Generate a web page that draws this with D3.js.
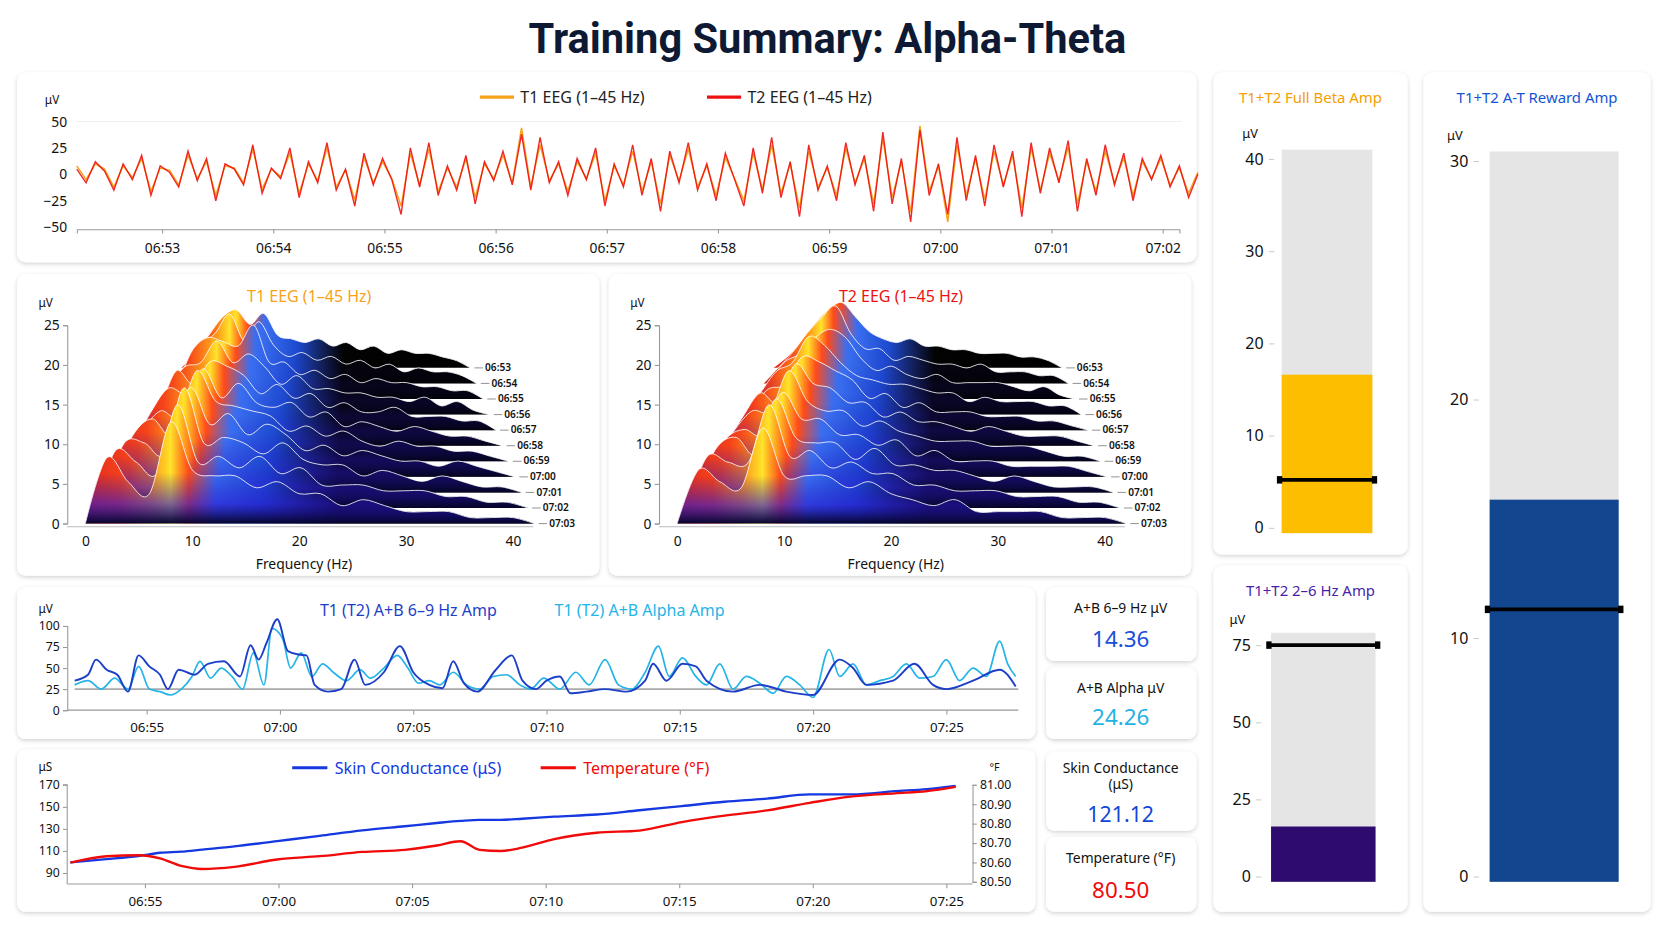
<!DOCTYPE html>
<html><head><meta charset="utf-8">
<script src="https://cdn.jsdelivr.net/npm/d3@7"></script>
<style>
body{margin:0;background:#fff;font-family:"Noto Sans",Roboto,sans-serif;}
svg{display:block}
</style></head><body>
<svg id="chart" width="1672" height="941" viewBox="0 0 1568 882.5"></svg>
<script>
// raw EEG traces (μV), one sample every 5 s from 06:52:14
var eegStart = "06:52:14";
var eegT1 = [8,-5,10,5,-12,8,-3,15,-16,6,4,-10,18,-4,12,-20,8,6,-8,24,-14,5,-2,20,-18,10,-6,25,-12,4,-24,16,-8,12,-4,-30,20,-10,24,-16,6,-12,15,-22,10,-4,18,-8,44,-12,28,-6,10,-16,12,-4,20,-25,8,-10,22,-16,12,-28,18,-6,24,-12,8,-20,16,-4,-25,20,-14,28,-18,10,-32,22,-12,6,-20,25,-8,15,-28,34,-22,12,-36,46,-16,8,-45,28,-20,15,-24,22,-10,18,-32,25,-15,20,-6,26,-28,12,-16,22,-8,16,-20,12,-4,15,-10,6,-18,2];
var eegT2 = [5,-8,12,3,-15,10,-5,18,-20,8,2,-12,22,-6,15,-25,10,5,-10,28,-18,6,-4,25,-22,12,-8,30,-15,5,-30,20,-10,15,-5,-38,25,-12,30,-20,8,-15,18,-28,12,-6,22,-10,38,-15,35,-8,12,-20,15,-5,25,-30,10,-12,28,-20,15,-35,22,-8,30,-15,10,-25,20,-5,-30,25,-18,35,-22,12,-40,28,-15,8,-25,30,-10,18,-35,40,-28,15,-45,42,-20,10,-38,35,-25,18,-30,28,-12,22,-40,30,-18,25,-8,32,-35,15,-20,28,-10,20,-25,15,-5,18,-12,8,-22,0];
var eegTicks = ["06:53","06:54","06:55","06:56","06:57","06:58","06:59","07:00","07:01","07:02"];

// spectra: rows 06:53 (back) .. 07:03 (front), values at 0,2,4..42 Hz
var specFreqs = [0,2,4,6,8,10,12,14,16,18,20,22,24,26,28,30,32,34,36,38,40,42];
var specRows = ["06:53","06:54","06:55","06:56","06:57","06:58","06:59","07:00","07:01","07:02","07:03"];
var specT1 = [
  [0,4,9,14,16,12,15,9,8,7,8,6,7,5,6,4,5,4,4,3,2,0],
  [0,5,10,13,18,11,16,10,7,8,6,7,5,6,4,5,3,4,3,3,2,0],
  [0,4,12,15,14,13,18,9,9,6,7,5,6,4,5,4,4,3,3,2,2,0],
  [0,6,11,12,17,12,14,11,7,9,6,6,5,5,4,4,3,4,2,3,1,0],
  [0,5,13,10,15,14,12,8,10,7,8,5,6,4,4,5,3,3,3,2,2,0],
  [0,7,12,11,16,10,13,9,8,9,6,7,4,5,4,3,4,3,2,2,1,0],
  [0,6,10,9,18,12,11,10,9,6,7,5,6,4,3,4,3,3,2,2,1,0],
  [0,8,11,8,17,10,12,8,10,8,5,6,4,5,4,3,3,2,3,2,1,0],
  [0,9,9,7,19,9,10,9,7,9,6,5,5,3,4,3,2,3,2,1,1,0],
  [0,10,8,6,18,8,9,7,9,6,7,4,4,4,3,3,3,2,2,1,1,0],
  [0,11,7,5,17,9,8,8,6,7,5,5,3,4,3,2,2,2,1,1,1,0]
];
var specT2 = [
  [0,3,7,12,16,18,14,10,8,7,8,6,6,5,5,4,4,4,3,3,2,0],
  [0,4,8,13,17,20,13,9,9,6,7,6,5,5,4,5,3,3,3,2,2,0],
  [0,4,9,11,15,17,15,10,7,8,6,5,6,4,4,4,4,3,2,3,1,0],
  [0,5,10,12,18,16,12,9,8,7,7,6,5,5,3,4,3,3,3,2,2,0],
  [0,5,9,10,16,15,13,11,7,8,5,6,4,4,4,3,3,3,2,2,1,0],
  [0,6,11,9,17,13,12,9,9,6,7,5,5,4,3,4,3,2,2,2,1,0],
  [0,6,10,10,18,12,10,10,7,8,6,5,4,4,4,3,3,3,2,1,1,0],
  [0,7,9,8,16,11,11,8,8,6,7,4,5,3,3,3,2,2,2,2,1,0],
  [0,8,10,7,17,10,9,9,6,8,5,5,4,4,3,2,3,2,1,1,1,0],
  [0,9,8,8,18,9,10,7,8,6,6,4,4,3,3,3,2,2,2,1,1,0],
  [0,9,7,6,16,8,8,8,6,7,5,4,3,4,2,2,2,2,1,1,1,0]
];

// A+B amplitudes (minutes after 06:50, μV)
var ampDarkT = [2.3,2.8,3.1,3.5,3.9,4.3,4.7,5.1,5.5,5.8,6.2,6.8,7.3,7.9,8.5,8.9,9.2,9.5,9.9,10.3,10.7,11.0,11.3,11.8,12.3,12.8,13.2,13.9,14.5,15.0,15.6,16.1,16.5,16.9,17.4,18.1,18.7,19.1,19.6,20.0,20.5,20.9,21.5,22.2,23.0,23.7,24.0,24.5,25.1,25.6,26.0,27.0,28.0,29.0,30.0,31.0,31.5,32.0,33.0,33.8,34.5,35.0,36.0,37.0,37.6];
var ampDark  = [35,42,60,48,42,22,65,52,42,25,48,42,55,58,40,77,60,80,108,70,66,65,30,22,25,60,30,45,76,45,30,26,58,32,22,48,65,35,25,35,40,20,22,25,22,35,55,35,55,52,35,22,30,22,18,60,50,30,35,55,30,25,35,48,28];
var ampLightT = [2.3,2.8,3.3,3.8,4.3,4.7,5.1,5.5,5.9,6.3,6.7,7.0,7.4,7.8,8.2,8.6,9.0,9.4,9.7,10.1,10.4,10.8,11.2,11.6,12.0,12.5,13.0,13.4,13.9,14.4,14.8,15.2,15.6,16.0,16.5,17.0,17.5,18.0,18.5,19.0,19.4,19.9,20.5,21.1,21.6,22.2,22.7,23.2,23.7,24.2,24.6,25.1,25.6,26.0,26.5,27.0,27.5,28.0,28.5,29.0,29.5,30.0,30.6,31.0,31.5,32.0,32.5,33.0,33.5,34.0,34.5,35.0,35.5,36.0,36.5,37.0,37.3,37.6];
var ampLight  = [30,35,25,38,25,52,25,22,18,25,40,58,38,50,40,25,68,30,97,85,50,68,40,55,45,35,48,38,50,65,50,32,35,30,45,30,25,40,42,30,25,38,25,45,30,60,30,25,45,76,40,62,40,30,55,25,40,32,20,40,30,15,72,40,55,30,35,40,55,38,40,60,35,50,40,82,55,40];
var ampTicks = ["06:55","07:00","07:05","07:10","07:15","07:20","07:25"];

// skin conductance (μS) and temperature (°F)
var physT = [2.21,3.56,4.76,5.56,6.36,7.15,8.35,9.95,11.54,13.14,14.73,15.93,16.81,17.53,18.32,19.12,20.32,21.91,23.51,25.10,26.70,28.29,29.89,31.49,33.08,34.28,35.35];
var skin = [99.6,102.5,105.4,108.3,109.3,111.2,114.1,118.9,123.7,128.6,132.4,135.3,137.2,138.2,138.2,139.2,141.1,143.0,146.9,150.7,154.6,157.5,161.3,161.3,164.2,166.1,169.0];
var temp = [80.599,80.632,80.637,80.621,80.582,80.566,80.577,80.615,80.632,80.654,80.665,80.687,80.709,80.665,80.659,80.676,80.720,80.753,80.764,80.808,80.841,80.868,80.907,80.940,80.956,80.967,80.989];

// summary values
var statLabels = ["A+B 6–9 Hz μV","A+B Alpha μV","Skin Conductance|(μS)","Temperature (°F)"];
var statValues = ["14.36","24.26","121.12","80.50"];
var statColors = ["#1a4fd8","#1fb2e6","#1247d6","#f00a0a"];
var barTitles = ["T1+T2 Full Beta Amp","T1+T2 2–6 Hz Amp","T1+T2 A-T Reward Amp"];
var barValues = [16.6, 16.2, 15.8];
var barThresholds = [5.2, 75, 11.2];
var barMax = [41, 79, 30.4];
var barTicks = [[0,10,20,30,40],[0,25,50,75],[0,10,20,30]];

var svg = d3.select("#chart");
var defs = svg.append("defs");
var sh = defs.append("filter").attr("id","sh").attr("x","-5%").attr("y","-5%").attr("width","110%").attr("height","115%");
sh.append("feDropShadow").attr("dx",0).attr("dy",1.5).attr("stdDeviation",2).attr("flood-color","#000").attr("flood-opacity",0.18);

function panel(x,y,w,h){
  svg.append("rect").attr("x",x).attr("y",y).attr("width",w).attr("height",h)
    .attr("rx",8).attr("fill","#fff").attr("filter","url(#sh)");
}
function txt(x,y,s,size,color,anchor,weight){
  return svg.append("text").attr("x",x).attr("y",y).text(s).attr("font-size",size)
    .attr("fill",color||"#111").attr("text-anchor",anchor||"start").attr("font-weight",weight||400);
}
function styleAxis(g){
  g.selectAll("path,line").attr("stroke","#999");
  g.selectAll("text").attr("font-size",12).attr("fill","#111").attr("font-family","Noto Sans, sans-serif");
}
var parse = d3.timeParse("%H:%M:%S");
var parseHM = d3.timeParse("%H:%M");
var minToDate = function(m){ return new Date(parse("06:50:00").getTime() + m*60000); };

txt(776,50,"Training Summary: Alpha-Theta",39,"#0e1a33","middle",700).attr("font-family","Roboto, sans-serif");

// ---------- EEG panel
panel(16,68,1106,178);
var t0 = parse(eegStart);
var eegTimes = eegT2.map(function(d,i){ return new Date(t0.getTime()+i*5000); });
var xE = d3.scaleTime().domain([t0, parse("07:02:09")]).range([72,1106]);
var yE = d3.scaleLinear().domain([-50,50]).range([213,114]);
svg.append("line").attr("x1",72).attr("x2",1108).attr("y1",114).attr("y2",114).attr("stroke","#eee");
var gx = svg.append("g").attr("transform","translate(0,215)")
  .call(d3.axisBottom(xE).tickValues(eegTicks.map(parseHM)).tickFormat(d3.timeFormat("%H:%M")).tickSize(4));
styleAxis(gx); gx.selectAll("text").attr("dy","1.2em").attr("font-size",13);
var gy = svg.append("g").attr("transform","translate(66,0)")
  .call(d3.axisLeft(yE).tickValues([-50,-25,0,25,50]).tickSize(0));
gy.select("path").remove(); styleAxis(gy); gy.selectAll("text").attr("font-size",13);
txt(42,98,"μV",11,"#111");
var lineE = function(arr){ return d3.line().x(function(d,i){return xE(eegTimes[i]);}).y(function(d){return yE(d);})(arr); };
svg.append("path").attr("d",lineE(eegT1)).attr("fill","none").attr("stroke","#f7a21b").attr("stroke-width",1.4);
svg.append("path").attr("d",lineE(eegT2)).attr("fill","none").attr("stroke","#ee1111").attr("stroke-width",1.3).attr("opacity",0.9);
[["T1 EEG (1–45 Hz)","#f7a21b",450],["T2 EEG (1–45 Hz)","#ee1111",663]].forEach(function(l){
  svg.append("line").attr("x1",l[2]).attr("x2",l[2]+32).attr("y1",91).attr("y2",91).attr("stroke",l[1]).attr("stroke-width",3);
  txt(l[2]+38,97,l[0],15,"#222");
});

// ---------- waterfall panels
var gH = defs.append("linearGradient").attr("id","gH").attr("x1",0).attr("x2",1).attr("y1",0).attr("y2",0);
[[0,"#e02a20"],[0.08,"#f5421a"],[0.15,"#ff9a1a"],[0.19,"#ffe32a"],[0.23,"#ff4a1a"],[0.29,"#3a6ef0"],[0.4,"#1d4ad0"],[0.5,"#101c4a"],[0.56,"#030303"],[1,"#000"]]
  .forEach(function(s){ gH.append("stop").attr("offset",s[0]).attr("stop-color",s[1]); });
var gV = defs.append("linearGradient").attr("id","gV").attr("x1",0).attr("x2",0).attr("y1",0).attr("y2",1);
[[0,"#1a10c0",0],[0.5,"#1a10c0",0],[0.8,"#2a18d0",0.6],[1,"#05052a",1]].forEach(function(s){ gV.append("stop").attr("offset",s[0]).attr("stop-color",s[1]).attr("stop-opacity",s[2]); });

function waterfall(dx, title, color, rows){
  panel(16+dx,257,546,283);
  txt(290+dx,283,title,15,color,"middle");
  txt(36+dx,288,"μV",11,"#111");
  var xF = d3.scaleLinear().domain([0,40]).range([80+dx,481+dx]);
  var yA = d3.scaleLinear().domain([0,25]).range([491,305]);
  var ga = svg.append("g").attr("transform","translate("+(63+dx)+",0)").call(d3.axisLeft(yA).tickValues([0,5,10,15,20,25]).tickSize(4));
  styleAxis(ga); ga.selectAll("text").attr("font-size",13);
  var gb = svg.append("g").attr("transform","translate(0,500)").call(d3.axisBottom(xF).tickValues([0,10,20,30,40]).tickSize(0));
  gb.select("path").remove(); styleAxis(gb); gb.selectAll("text").attr("font-size",13);
  svg.append("line").attr("x1",63+dx).attr("x2",500+dx).attr("y1",494).attr("y2",494).attr("stroke","#bbb");
  txt(285+dx,534,"Frequency (Hz)",13,"#111","middle");
  var depth = d3.scaleLinear().domain([0,rows.length-1]);
  var x0 = depth.copy().range([170,80]), x40 = depth.copy().range([428,481]);
  var base = depth.copy().range([345,491]), amp = depth.copy().range([3.4,5.6]);
  rows.forEach(function(r,i){
    var xs = d3.scaleLinear().domain([0,40]).range([x0(i)+dx, x40(i)+dx]);
    var area = d3.area().x(function(d,j){return xs(specFreqs[j]);}).y0(base(i)).y1(function(d){return base(i)-d*amp(i);}).curve(d3.curveCardinal);
    var line = d3.line().x(function(d,j){return xs(specFreqs[j]);}).y(function(d){return base(i)-d*amp(i);}).curve(d3.curveCardinal);
    svg.append("path").attr("d",area(r)).attr("fill","url(#gH)");
    svg.append("path").attr("d",area(r)).attr("fill","url(#gV)").attr("opacity",i/(rows.length-1));
    svg.append("path").attr("d",line(r)).attr("fill","none").attr("stroke","#fff").attr("stroke-width",0.9).attr("opacity",0.85);
    var ex = xs(42);
    svg.append("line").attr("x1",ex+4).attr("x2",ex+12).attr("y1",base(i)).attr("y2",base(i)).attr("stroke","#999");
    txt(ex+14,base(i)+3,specRows[i],9.5,"#111","start",600);
  });
}
waterfall(0,"T1 EEG (1–45 Hz)","#f7a21b",specT1);
waterfall(555,"T2 EEG (1–45 Hz)","#ee1111",specT2);

// ---------- A+B amp panel
panel(16,551,955,142);
var xA = d3.scaleTime().domain([minToDate(2.3),minToDate(37.7)]).range([70,955]);
var yAmp = d3.scaleLinear().domain([0,100]).range([666,587]);
var gax = svg.append("g").attr("transform","translate(0,666)").call(d3.axisBottom(xA).tickValues(ampTicks.map(parseHM)).tickFormat(d3.timeFormat("%H:%M")).tickSize(4));
styleAxis(gax); gax.selectAll("text").attr("dy","1.1em").attr("font-size",12.5);
gax.select("path").attr("d","M63,0H955");
var gay = svg.append("g").attr("transform","translate(63,0)").call(d3.axisLeft(yAmp).tickValues([0,25,50,75,100]).tickSize(4));
styleAxis(gay); gay.selectAll("text").attr("font-size",11.5);
txt(36,575,"μV",11,"#111");
svg.append("line").attr("x1",70).attr("x2",955).attr("y1",yAmp(25)).attr("y2",yAmp(25)).attr("stroke","#aaa").attr("stroke-width",1.5);
var lineA = function(ts,vs){ return d3.line().x(function(d,i){return xA(minToDate(ts[i]));}).y(function(d){return yAmp(d);}).curve(d3.curveMonotoneX)(vs); };
svg.append("path").attr("d",lineA(ampLightT,ampLight)).attr("fill","none").attr("stroke","#24b4e8").attr("stroke-width",1.6);
svg.append("path").attr("d",lineA(ampDarkT,ampDark)).attr("fill","none").attr("stroke","#1d3fc8").attr("stroke-width",1.8);
txt(300,578,"T1 (T2) A+B 6–9 Hz Amp",15,"#1d3fc8");
txt(520,578,"T1 (T2) A+B Alpha Amp",15,"#24b4e8");

// ---------- skin / temperature panel
panel(16,703,955,152);
var xP = d3.scaleTime().domain([minToDate(2.21),minToDate(35.9)]).range([66,910]);
var yS = d3.scaleLinear().domain([80,170]).range([829,736]);
var yT = d3.scaleLinear().domain([80.5,81.0]).range([827,736]);
var gpx = svg.append("g").attr("transform","translate(0,829)").call(d3.axisBottom(xP).tickValues(ampTicks.map(parseHM)).tickFormat(d3.timeFormat("%H:%M")).tickSize(4));
styleAxis(gpx); gpx.selectAll("text").attr("dy","1.1em").attr("font-size",12.5);
gpx.select("path").attr("d","M63,0H912");
var gpy = svg.append("g").attr("transform","translate(63,0)").call(d3.axisLeft(yS).tickValues([90,110,130,150,170]).tickSize(4));
styleAxis(gpy); gpy.selectAll("text").attr("font-size",11.5); gpy.select("path").attr("d","M-4,736H0V829");
var gpr = svg.append("g").attr("transform","translate(912,0)").call(d3.axisRight(yT).tickValues([80.5,80.6,80.7,80.8,80.9,81.0]).tickFormat(d3.format(".2f")).tickSize(4));
styleAxis(gpr); gpr.selectAll("text").attr("font-size",11.5);
txt(36,723,"μS",11,"#111"); txt(928,723,"°F",10,"#111");
var lineS = d3.line().x(function(d,i){return xP(minToDate(physT[i]));}).y(function(d){return yS(d);}).curve(d3.curveMonotoneX);
var lineT = d3.line().x(function(d,i){return xP(minToDate(physT[i]));}).y(function(d){return yT(d);}).curve(d3.curveMonotoneX);
svg.append("path").attr("d",lineS(skin)).attr("fill","none").attr("stroke","#1538e0").attr("stroke-width",2.2);
svg.append("path").attr("d",lineT(temp)).attr("fill","none").attr("stroke","#f00a0a").attr("stroke-width",2.2);
[["Skin Conductance (μS)","#1538e0",274],["Temperature (°F)","#f00a0a",507]].forEach(function(l){
  svg.append("line").attr("x1",l[2]).attr("x2",l[2]+33).attr("y1",720).attr("y2",720).attr("stroke",l[1]).attr("stroke-width",3);
  txt(l[2]+40,726,l[0],15,l[1]);
});

// ---------- stat boxes
var boxes = [[551,69],[626,67],[705,74],[785,70]];
boxes.forEach(function(b,i){
  panel(981,b[0],141,b[1]);
  var lines = statLabels[i].split("|");
  lines.forEach(function(s,k){ txt(1051,b[0]+(lines.length>1?20:24)+k*15,s,13,"#111","middle"); });
  txt(1051,b[0]+b[1]-(lines.length>1?8:13),statValues[i],(lines.length>1?20:21),statColors[i],"middle");
});

// ---------- vertical gauges
var gauges = [
  {x:1138,y:68,w:182,h:452,title:"#f5a000",fill:"#fdbe00",bx:1202,bw:85,y0:495,y1:149,ax:1195},
  {x:1138,y:530,w:182,h:325,title:"#4a1fa8",fill:"#2e0b6e",bx:1192,bw:98,y0:822,y1:605,ax:1183},
  {x:1335,y:68,w:213,h:787,title:"#1455d6",fill:"#12468f",bx:1397,bw:121,y0:822,y1:151,ax:1387}
];
gauges.forEach(function(g,i){
  panel(g.x,g.y,g.w,g.h);
  txt(g.x+g.w/2,g.y+29,barTitles[i],14,g.title,"middle");
  var top = barTicks[i][barTicks[i].length-1];
  var y = d3.scaleLinear().domain([0,top]).range([g.y0,g.y1]);
  txt(g.ax-30,g.y1-20,"μV",12,"#111");
  var ax = svg.append("g").attr("transform","translate("+g.ax+",0)").call(d3.axisLeft(y).tickValues(barTicks[i]).tickSize(5));
  ax.select("path").remove(); styleAxis(ax); ax.selectAll("line").attr("stroke","#ccc"); ax.selectAll("text").attr("font-size",15).attr("x",-10);
  svg.append("rect").attr("x",g.bx).attr("width",g.bw).attr("y",y(barMax[i])).attr("height",y(0)-y(barMax[i])+5).attr("fill","#e5e5e5");
  svg.append("rect").attr("x",g.bx).attr("width",g.bw).attr("y",y(barValues[i])).attr("height",y(0)-y(barValues[i])+5).attr("fill",g.fill);
  svg.append("line").attr("x1",g.bx-2).attr("x2",g.bx+g.bw+2).attr("y1",y(barThresholds[i])).attr("y2",y(barThresholds[i])).attr("stroke","#000").attr("stroke-width",3.5);
  [g.bx-2,g.bx+g.bw+2].forEach(function(cx){
    svg.append("rect").attr("x",cx-2.5).attr("y",y(barThresholds[i])-3.5).attr("width",5).attr("height",7).attr("fill","#000");
  });
});
</script></body></html>
